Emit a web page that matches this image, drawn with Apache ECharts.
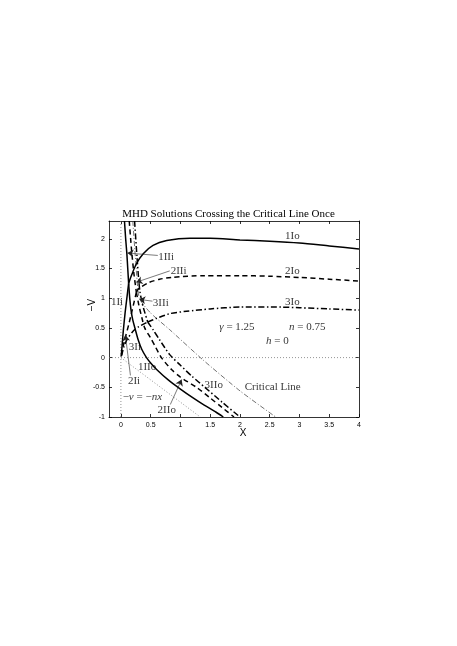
<!DOCTYPE html>
<html><head><meta charset="utf-8">
<script src="https://cdn.jsdelivr.net/npm/echarts@6/dist/echarts.min.js"></script>
<style>html,body{margin:0;padding:0;background:#fff;}#c{width:457px;height:646px;}</style>
</head><body><div id="c"></div>
<script>
// ---- axis ticks ----
const xTicks = [0, 0.5, 1, 1.5, 2, 2.5, 3, 3.5, 4];
const yTicks = [-1, -0.5, 0, 0.5, 1, 1.5, 2];
const xRange = [-0.2, 4];
const yRange = [-1, 2.3];

// ---- solution 1 (solid) ----
const sol1Ii  = [[0.005,0.02],[0.02,0.2],[0.04,0.45],[0.07,0.75],[0.1,1.0],[0.13,1.25]];
const sol1Io  = [[0.13,1.25],[0.18,1.39],[0.26,1.58],[0.375,1.75],[0.54,1.89],[0.77,1.97],[1.16,2.01],[1.5,2.01],[2.0,1.98],[2.5,1.96],[3.0,1.93],[3.5,1.88],[4.0,1.83]];
const sol1IIi = [[0.06,2.3],[0.08,2.0],[0.1,1.75],[0.115,1.5],[0.13,1.25]];
const sol1IIo = [[0.13,1.25],[0.15,0.98],[0.17,0.8],[0.2,0.63],[0.235,0.5],[0.29,0.3],[0.35,0.14],[0.43,0.0],[0.5,-0.09],[0.6,-0.2],[0.8,-0.38],[1.0,-0.53],[1.2,-0.67],[1.4,-0.8],[1.6,-0.92],[1.72,-1.0]];

// ---- solution 2 (dashed) ----
const sol2Ii  = [[0.01,0.04],[0.04,0.2],[0.08,0.36],[0.13,0.55],[0.19,0.8],[0.26,1.1]];
const sol2Io  = [[0.26,1.1],[0.3,1.16],[0.46,1.26],[0.65,1.32],[0.85,1.35],[1.4,1.38],[2.0,1.38],[2.5,1.37],[3.0,1.35],[3.5,1.32],[4.0,1.29]];
const sol2IIi = [[0.14,2.3],[0.18,1.8],[0.22,1.4],[0.26,1.1]];
const sol2IIo = [[0.26,1.1],[0.3,0.89],[0.35,0.68],[0.4,0.5],[0.5,0.33],[0.57,0.2],[0.68,0.0],[0.85,-0.2],[1.0,-0.33],[1.27,-0.5],[1.5,-0.68],[1.7,-0.84],[1.9,-1.0]];

// ---- solution 3 (dash-dot) ----
const sol3Ii  = [[0.01,0.03],[0.05,0.18],[0.1,0.3],[0.2,0.44],[0.3,0.52],[0.45,0.6]];
const sol3Io  = [[0.45,0.6],[0.6,0.66],[0.82,0.74],[1.1,0.78],[1.5,0.82],[2.0,0.85],[2.7,0.85],[3.0,0.84],[3.5,0.82],[4.0,0.8]];
const sol3IIi = [[0.23,2.3],[0.27,1.7],[0.3,1.3],[0.32,1.11],[0.35,0.95],[0.38,0.83],[0.45,0.6]];
const sol3IIo = [[0.45,0.6],[0.54,0.47],[0.65,0.3],[0.82,0.05],[1.0,-0.13],[1.2,-0.32],[1.41,-0.5],[1.7,-0.75],[2.0,-1.0]];

// ---- reference lines ----
const criticalLine = [[0.2,2.3],[0.25,1.6],[0.31,1.0],[0.5,0.75],[0.82,0.47],[1.38,-0.04],[2.0,-0.56],[2.6,-1.0]];
const lineNx = [[0,0],[1.3333,-1]];      // -v = -n x, n = 0.75
const lineX0 = [[0,-1],[0,2.3]];
const lineY0 = [[-0.2,0],[4,0]];

// ---- annotations ----
const labelTexts = ['1Io','2Io','3Io','1IIi','2IIi','3IIi','1Ii','3Ii','1IIo','2Ii','2IIo','3IIo'];
const labelPos   = [[2.88,2.04],[2.88,1.45],[2.88,0.94],[0.76,1.70],[0.97,1.46],[0.67,0.92],[-0.065,0.93],[0.235,0.185],[0.44,-0.16],[0.22,-0.4],[0.77,-0.88],[1.56,-0.46]];
const arrows = [
  [[0.62,1.72],[0.11,1.76]],
  [[0.82,1.46],[0.26,1.27]],
  [[0.53,0.95],[0.31,0.98]],
  [[0.16,-0.3],[0.075,0.38]],
  [[0.83,-0.79],[1.02,-0.37]]
];

const SERIF = '"Liberation Serif", "DejaVu Serif", serif';
const SANS = '"Liberation Sans", Arial, sans-serif';

function curve(data, type, width) {
  return {
    type: 'line', data: data, showSymbol: false, smooth: 0.25, silent: true,
    lineStyle: {color: '#000', width: width, type: type}, z: 5
  };
}
const SOLID = 'solid', DASH = [5, 3.5], DASHDOT = [6, 2.5, 1.5, 2.5];

const series = [
  {type:'line', data: lineX0, showSymbol:false, lineStyle:{color:'#777', width:0.8, type:[1,2]}, z:2},
  {type:'line', data: lineY0, showSymbol:false, lineStyle:{color:'#777', width:0.8, type:[1,2]}, z:2},
  {type:'line', data: lineNx, showSymbol:false, lineStyle:{color:'#777', width:0.8, type:[1,2]}, z:2},
  {type:'line', data: criticalLine, showSymbol:false, smooth:0.2, lineStyle:{color:'#333', width:0.7, type:[5,2,1,2]}, z:2},
  curve(sol1Ii, SOLID, 1.5), curve(sol1Io, SOLID, 1.5), curve(sol1IIi, SOLID, 1.5), curve(sol1IIo, SOLID, 1.5),
  curve(sol2Ii, DASH, 1.5), curve(sol2Io, DASH, 1.5), curve(sol2IIi, DASH, 1.5), curve(sol2IIo, DASH, 1.5),
  curve(sol3Ii, DASHDOT, 1.5), curve(sol3Io, DASHDOT, 1.5), curve(sol3IIi, DASHDOT, 1.5), curve(sol3IIo, DASHDOT, 1.5),
  {
    type: 'lines', coordinateSystem: 'cartesian2d', z: 6, silent: true,
    symbol: ['none', 'arrow'], symbolSize: 6,
    lineStyle: {color: '#222', width: 0.6, opacity: 1},
    data: arrows.map(a => ({coords: a}))
  },
  {
    type: 'scatter', symbolSize: 0, z: 7, silent: true,
    data: labelPos.map((p, i) => ({value: p, name: labelTexts[i]})),
    label: {show: true, position: 'inside', formatter: p => p.name, color: '#000',
            fontFamily: SERIF, fontSize: 11}
  },
  {
    type: 'scatter', symbolSize: 0, z: 7, silent: true,
    data: [
      {value: [1.95, 0.52], label: {formatter: '{i|γ} = 1.25'}},
      {value: [3.13, 0.52], label: {formatter: '{i|n} = 0.75'}},
      {value: [2.63, 0.27], label: {formatter: '{i|h} = 0'}},
      {value: [0.36, -0.66], label: {formatter: '−{i|v} = −{i|nx}'}},
      {value: [2.08, -0.5], label: {formatter: 'Critical Line', align: 'left'}}
    ],
    label: {show: true, position: 'inside', color: '#000', fontFamily: SERIF, fontSize: 11,
            rich: {i: {fontStyle: 'italic', fontFamily: SERIF, fontSize: 11, color: '#000'}}}
  }
];

const axisCommon = {
  type: 'value', splitLine: {show: false},
  axisLine: {show: true, onZero: false, lineStyle: {color: '#000', width: 0.8}},
  axisTick: {show: true, inside: true, length: 3, lineStyle: {color: '#000', width: 0.8}}
};

const option = {
  animation: false,
  backgroundColor: '#fff',
  title: {
    text: 'MHD Solutions Crossing the Critical Line Once', left: 'center', top: 204,
    textStyle: {fontFamily: SERIF, fontSize: 11, fontWeight: 'normal', color: '#000'}
  },
  grid: {left: 109, top: 221, width: 250, height: 196, containLabel: false},
  xAxis: [
    Object.assign({}, axisCommon, {
      min: xRange[0], max: xRange[1], position: 'bottom',
      axisTick: Object.assign({}, axisCommon.axisTick, {customValues: xTicks}),
      axisLabel: {customValues: xTicks, fontFamily: SANS, fontSize: 7, color: '#000', margin: 5},
      name: 'X', nameLocation: 'middle', nameGap: 11, nameMoveOverlap: false,
      nameTextStyle: {fontFamily: SANS, fontSize: 10, color: '#000', padding: [0, 0, 0, 18]}
    }),
    Object.assign({}, axisCommon, {
      min: xRange[0], max: xRange[1], position: 'top',
      axisTick: Object.assign({}, axisCommon.axisTick, {customValues: xTicks}),
      axisLabel: {show: false}
    })
  ],
  yAxis: [
    Object.assign({}, axisCommon, {
      min: yRange[0], max: yRange[1], position: 'left',
      axisTick: Object.assign({}, axisCommon.axisTick, {customValues: yTicks}),
      axisLabel: {customValues: yTicks, fontFamily: SANS, fontSize: 7, color: '#000', margin: 4},
      name: '−V', nameLocation: 'middle', nameGap: 12, nameRotate: 90, nameMoveOverlap: false,
      nameTextStyle: {fontFamily: SANS, fontSize: 10, color: '#000', padding: [0, 0, 0, 28]}
    }),
    Object.assign({}, axisCommon, {
      min: yRange[0], max: yRange[1], position: 'right',
      axisTick: Object.assign({}, axisCommon.axisTick, {customValues: yTicks}),
      axisLabel: {show: false}
    })
  ],
  series: series
};

const chart = echarts.init(document.getElementById('c'), null, {renderer: 'canvas'});
chart.setOption(option);
</script>
</body></html>
